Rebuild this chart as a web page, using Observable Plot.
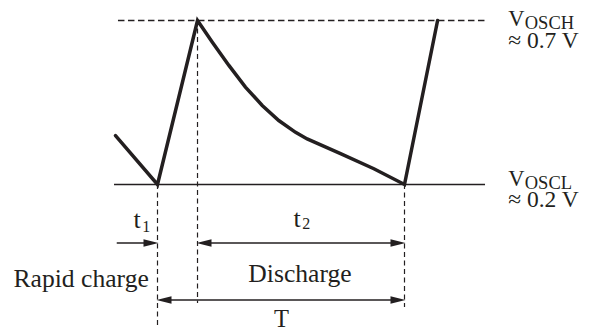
<!DOCTYPE html>
<html><head><meta charset="utf-8">
<script src="https://cdn.jsdelivr.net/npm/d3@7"></script>
<script src="https://cdn.jsdelivr.net/npm/@observablehq/plot@0.6"></script>
<style>body{margin:0;background:#fff} svg{display:block}</style>
</head><body><div id="chart"></div>
<script>
// Time in units where one period T = 10; voltage in volts
const waveTime = [-1.70, 0, 1.62, 2.22, 2.89, 3.56, 4.24, 4.91, 5.59, 6.06, 7.41, 8.76, 10, 11.34];
const waveVolt = [0.349, 0.2, 0.7, 0.634, 0.563, 0.497, 0.441, 0.395, 0.359, 0.339, 0.294, 0.248, 0.2, 0.7];
const vHigh = 0.7, vLow = 0.2;
const tCharge = 0, tPeak = 1.62, tEnd = 10;
const levelLevels = [vHigh, vLow];
const levelNames = ["OSCH", "OSCL"];
const levelValues = ["≈ 0.7 V", "≈ 0.2 V"];
const intervalNames = ["t", "t"];
const intervalSubs = ["1", "2"];
const phaseLabels = ["Rapid charge", "Discharge", "T"];
const guideTimes = [tCharge, tPeak, tEnd];
const guideTops = [vLow, vHigh, vLow];
const guideBottoms = [-0.236, -0.163, -0.175];
const arrowFrom = [-1.63, tPeak, tCharge];
const arrowTo = [tCharge, tEnd, tEnd];
const arrowLevel = [0.0216, 0.0216, -0.152];
const arrowBoth = [false, true, true];

const ink = "#231f20";
const serif = "Liberation Serif, Times New Roman, serif";
const head = { draw(ctx) { ctx.moveTo(1, 0); ctx.lineTo(-14, -3.8); ctx.lineTo(-14, 3.8); ctx.closePath(); } };

const wave = waveTime.map((t, i) => ({t, v: waveVolt[i]}));
const guides = guideTimes.map((t, i) => ({t, top: guideTops[i], bot: guideBottoms[i]}));
const arrows = arrowFrom.map((f, i) => ({
  from: f, to: arrowTo[i], y: arrowLevel[i], both: arrowBoth[i],
  x1: arrowBoth[i] ? f + 0.25 : f, x2: arrowTo[i] - 0.25
}));
const heads = arrows.flatMap(a => [{t: a.to, y: a.y, r: 0}].concat(a.both ? [{t: a.from, y: a.y, r: 180}] : []));
const levelRows = levelLevels.map((v, i) => ({v, name: levelNames[i], value: levelValues[i]}));

const txt = {fontFamily: serif, fill: ink, lineAnchor: "bottom"};
// per-level vertical offset of the label block (px below the level line)
const levelDy = [5, 1];

const levelMarks = levelRows.map((row, i) =>
  Plot.text([row], {...txt, x: 13.28, y: "v", dx: 22.7, dy: levelDy[i], textAnchor: "start", fontSize: 22.5,
    text: () => "V"})
);

const chart = Plot.plot({
  width: 593, height: 332,
  marginTop: 0, marginRight: 0, marginBottom: 0, marginLeft: 0,
  x: {domain: [-6.3563, 17.6518], axis: null},
  y: {domain: [-0.25122, 0.76098], axis: null},
  style: {background: "#fff", color: ink},
  marks: [
    Plot.ruleY([vHigh], {x1: -1.58, x2: 13.28, stroke: ink, strokeWidth: 1.3, strokeDasharray: "6.5,3.5"}),
    Plot.ruleY([vLow], {x1: -1.74, x2: 13.28, stroke: ink, strokeWidth: 1.6}),
    Plot.ruleX(guides, {x: "t", y1: "top", y2: "bot", stroke: ink, strokeWidth: 1.2, strokeDasharray: "5,3.5"}),
    Plot.line(wave, {x: "t", y: "v", stroke: ink, strokeWidth: 3.5, strokeLinejoin: "miter", strokeMiterlimit: 10}),
    Plot.ruleY(arrows, {y: "y", x1: "x1", x2: "x2", stroke: ink, strokeWidth: 1.6}),
    Plot.dot(heads, {x: "t", y: "y", symbol: head, rotate: "r", fill: ink, stroke: "none", r: 4}),
    // interval labels t1, t2 (subscripts added below as tspans)
    Plot.text([intervalNames[0]], {...txt, x: tCharge, y: vLow, dx: -24, dy: 43, textAnchor: "start", fontSize: 26, text: d => d}),
    Plot.text([intervalNames[1]], {...txt, x: tPeak, y: vLow, dx: 96, dy: 42.7, textAnchor: "start", fontSize: 26, text: d => d}),
    // phase labels
    Plot.text([phaseLabels[0]], {...txt, x: tCharge, y: vLow, dx: -8.7, dy: 102.7, textAnchor: "end", fontSize: 25.6, text: d => d}),
    Plot.text([phaseLabels[1]], {...txt, x: (tPeak + tEnd) / 2, y: vLow, dx: -1, dy: 97.7, textAnchor: "middle", fontSize: 25.6, text: d => d}),
    Plot.text([phaseLabels[2]], {...txt, x: (tCharge + tEnd) / 2, y: vLow, dx: 0.5, dy: 142.5, textAnchor: "middle", fontSize: 24.5, text: d => d}),
    ...levelMarks
  ]
});

const root = chart.tagName.toLowerCase() === "svg" ? chart : chart.querySelector("svg");
const allTexts = Array.from(root.querySelectorAll("text"));
// subscripts for t1, t2
const subDy = [4.7, 1.6];
allTexts.filter(n => n.textContent === "t").forEach((node, i) => {
  d3.select(node).append("tspan").attr("font-size", 16).attr("dy", subDy[i]).attr("dx", 1.5).text(intervalSubs[i]);
});
// level labels: V + subscript, then value on the next line
allTexts.filter(n => n.textContent === "V").forEach((node, i) => {
  const t = d3.select(node);
  t.append("tspan").attr("font-size", 18.5).attr("dy", 3).attr("dx", 0.3).text(levelRows[i].name);
  t.append("tspan").attr("x", 0).attr("dy", i === 0 ? 19 : 18.7).attr("font-size", 23.5).text(levelRows[i].value);
});
document.getElementById("chart").appendChild(chart);
</script>
</body></html>
